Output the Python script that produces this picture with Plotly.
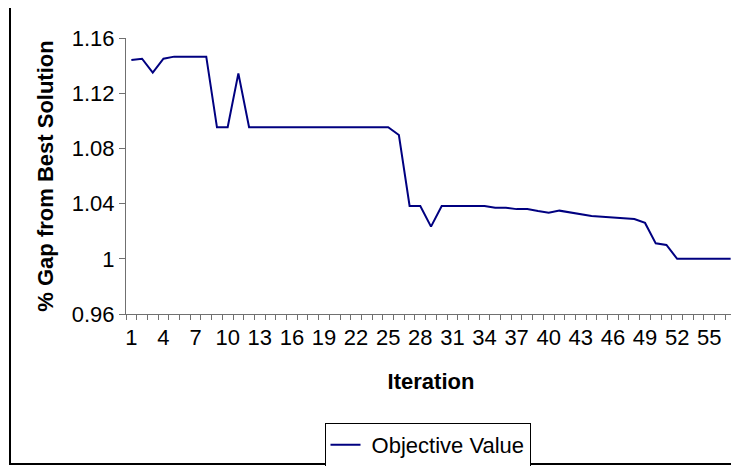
import plotly.graph_objects as go

iterations = list(range(1, 58))
objective_value = [
    1.144, 1.145, 1.135, 1.145, 1.1465, 1.1465, 1.1465, 1.1465, 1.0953, 1.0953,
    1.1344, 1.0953, 1.0953, 1.0953, 1.0953, 1.0953, 1.0953, 1.0953, 1.0953, 1.0953,
    1.0953, 1.0953, 1.0953, 1.0953, 1.0953, 1.0897, 1.0383, 1.0383, 1.0233, 1.0383,
    1.0383, 1.0383, 1.0383, 1.0383, 1.037, 1.037, 1.036, 1.036, 1.0346, 1.0334,
    1.0349, 1.0337, 1.0325, 1.031, 1.0305, 1.030, 1.0293, 1.0288, 1.026, 1.0112,
    1.010, 1.0, 1.0, 1.0, 1.0, 1.0, 1.0,
]
x_tick_labels = [str(v) for v in range(1, 58, 3) if v <= 55]
y_ticks = [0.96, 1.0, 1.04, 1.08, 1.12, 1.16]
y_tick_text = ["0.96", "1", "1.04", "1.08", "1.12", "1.16"]

FONT = "Liberation Sans, Arial, sans-serif"
FS = 22
OFF = 8  # page body margin offset
W, H = 739 - OFF, 466 - OFF
L, R, T, B = 126 - OFF, 3, 38 - OFF, 152
pw, ph = W - L - R, H - T - B

def px_x(p):
    return (p - OFF - L) / pw

def px_y(p):
    return (H - B - (p - OFF)) / ph

fig = go.Figure()
fig.add_trace(go.Scatter(
    x=iterations, y=objective_value, mode="lines",
    name="&nbsp;Objective Value",
    line=dict(color="#000080", width=2),
))

fig.update_layout(
    width=W, height=H,
    margin=dict(l=L, r=R, t=T, b=B, autoexpand=False),
    paper_bgcolor="white", plot_bgcolor="white",
    font=dict(family=FONT, size=FS, color="black"),
    showlegend=True,
    legend=dict(
        orientation="h", x=px_x(427.5), xanchor="center",
        y=px_y(423), yanchor="top",
        bordercolor="black", borderwidth=1,
        font=dict(family=FONT, size=FS, color="black"),
        itemwidth=30,
    ),
    xaxis=dict(
        range=[0.5, 57.5],
        tickmode="array",
        tickvals=[int(t) for t in x_tick_labels],
        ticktext=x_tick_labels,
        ticks="", showgrid=False, zeroline=False,
        showline=True, linecolor="#707070", linewidth=1,
        tickfont=dict(family=FONT, size=FS),
        ticklabelstandoff=4,
        minor=dict(tick0=0.5, dtick=1, ticks="outside", ticklen=5,
                   tickcolor="#707070", showgrid=False),
        title=dict(text="<b>Iteration</b>", font=dict(family=FONT, size=FS), standoff=24),
    ),
    yaxis=dict(
        range=[0.96, 1.16],
        tickmode="array", tickvals=y_ticks, ticktext=y_tick_text,
        ticks="outside", ticklen=6, tickcolor="#707070",
        showgrid=False, zeroline=False,
        showline=True, linecolor="#707070", linewidth=1,
        tickfont=dict(family=FONT, size=FS),
        title=dict(text="<b>% Gap from Best Solution</b>", font=dict(family=FONT, size=FS), standoff=12),
    ),
    shapes=[
        dict(type="rect", xref="paper", yref="paper",
             x0=px_x(10), x1=px_x(760), y0=px_y(464), y1=px_y(-20),
             line=dict(color="black", width=2), fillcolor="rgba(0,0,0,0)", layer="below"),
    ],
)

fig.write_html("out.html")
